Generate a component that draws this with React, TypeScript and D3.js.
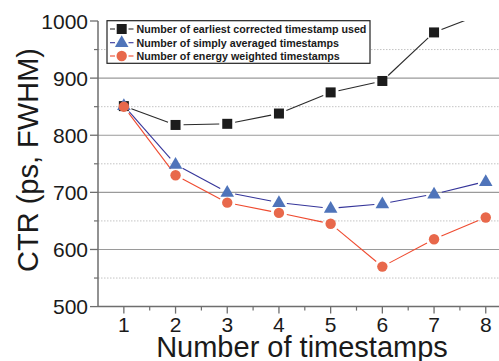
import React from "react";
import * as d3 from "d3";

const timestamps = [1, 2, 3, 4, 5, 6, 7, 8];
const earliestCorrected = [851, 818, 820, 838, 875, 895, 980, 1015];
const simplyAveraged = [852, 749, 700, 682, 672, 680, 697, 719];
const energyWeighted = [850, 730, 682, 664, 645, 570, 618, 656];
const seriesNames = [
  "Number of earliest corrected timestamp used",
  "Number of simply averaged timestamps",
  "Number of energy weighted timestamps",
];
const yMajorTicks = [500, 600, 700, 800, 900, 1000];
const yMinorTicks = [550, 650, 750, 850, 950];
const xMinorTicks = [1.5, 2.5, 3.5, 4.5, 5.5, 6.5, 7.5];

const W = 499;
const H = 361;
const left = 98;
const top = 21;
const bottom = 306.6;

const x = d3.scaleLinear().domain([0.5, 8.5]).range([left, left + 8 * 51.7]);
const y = d3.scaleLinear().domain([500, 1000]).range([bottom, top]);

type Kind = "square" | "triangle" | "circle";

const series: { name: string; values: number[]; kind: Kind; fill: string; line: string }[] = [
  { name: seriesNames[0], values: earliestCorrected, kind: "square", fill: "#1c1c1c", line: "#2a2a2a" },
  { name: seriesNames[1], values: simplyAveraged, kind: "triangle", fill: "#4f74ba", line: "#35359a" },
  { name: seriesNames[2], values: energyWeighted, kind: "circle", fill: "#e8684b", line: "#ef4b30" },
];

const GAP = 8;

function Marker({ kind, cx, cy, fill }: { kind: Kind; cx: number; cy: number; fill: string }) {
  if (kind === "square") {
    return <rect x={cx - 5} y={cy - 5} width={10} height={10} fill={fill} />;
  }
  if (kind === "triangle") {
    const path = d3.symbol(d3.symbolTriangle, 80)();
    return <path d={path || ""} transform={`translate(${cx},${cy + 0.5})`} fill={fill} />;
  }
  return <circle cx={cx} cy={cy} r={5.2} fill={fill} />;
}

function segments(values: number[]) {
  const segs: { x1: number; y1: number; x2: number; y2: number }[] = [];
  for (let i = 0; i < values.length - 1; i++) {
    const ax = x(timestamps[i]);
    const ay = y(values[i]);
    const bx = x(timestamps[i + 1]);
    const by = y(values[i + 1]);
    const len = Math.hypot(bx - ax, by - ay);
    if (len <= 2 * GAP) continue;
    const ux = (bx - ax) / len;
    const uy = (by - ay) / len;
    segs.push({ x1: ax + ux * GAP, y1: ay + uy * GAP, x2: bx - ux * GAP, y2: by - uy * GAP });
  }
  return segs;
}

export default function App() {
  const font = "Liberation Sans, Arial, sans-serif";
  const legendRows = [29, 42.7, 56];
  return (
    <svg width={W} height={H} style={{ position: "absolute", left: 0, top: 0, background: "#fff" }} fontFamily={font}>
      <defs>
        <clipPath id="plot-clip">
          <rect x={left} y={top} width={W - left} height={bottom - top} />
        </clipPath>
      </defs>

      {/* grid */}
      {yMinorTicks.map((v) => (
        <line key={"gm" + v} x1={left} x2={W} y1={y(v)} y2={y(v)} stroke="#c4c4c4" strokeWidth={1} strokeDasharray="1.5,1.5" />
      ))}
      {yMajorTicks.filter((v) => v !== 500 && v !== 1000).map((v) => (
        <line key={"gM" + v} x1={left} x2={W} y1={y(v)} y2={y(v)} stroke="#9a9a9a" strokeWidth={1.2} />
      ))}

      {/* series */}
      <g clipPath="url(#plot-clip)">
        {series.map((s) => (
          <g key={s.name}>
            {segments(s.values).map((g, i) => (
              <line key={i} x1={g.x1} y1={g.y1} x2={g.x2} y2={g.y2} stroke={s.line} strokeWidth={1.1} />
            ))}
          </g>
        ))}
        {series.map((s) => (
          <g key={s.name + "m"}>
            {s.values.map((v, i) => (
              <Marker key={i} kind={s.kind} cx={x(timestamps[i])} cy={y(v)} fill={s.fill} />
            ))}
          </g>
        ))}
      </g>

      {/* axes */}
      <line x1={left} x2={left} y1={top} y2={bottom} stroke="#6e6e6e" strokeWidth={1.5} />
      <line x1={left} x2={W} y1={bottom} y2={bottom} stroke="#6e6e6e" strokeWidth={1.5} />
      {yMajorTicks.map((v) => (
        <g key={"yt" + v}>
          <line x1={left - 8} x2={left} y1={y(v)} y2={y(v)} stroke="#6e6e6e" strokeWidth={1.3} />
          <text x={left - 10} y={y(v)} dy="0.36em" textAnchor="end" fontSize={21} fill="#1a1a1a">
            {v}
          </text>
        </g>
      ))}
      {yMinorTicks.map((v) => (
        <line key={"ymt" + v} x1={left - 4} x2={left} y1={y(v)} y2={y(v)} stroke="#6e6e6e" strokeWidth={1.2} />
      ))}
      {timestamps.map((t) => (
        <g key={"xt" + t}>
          <line x1={x(t)} x2={x(t)} y1={bottom} y2={bottom + 7} stroke="#6e6e6e" strokeWidth={1.3} />
          <text x={x(t)} y={332} textAnchor="middle" fontSize={21} fill="#1a1a1a">
            {t}
          </text>
        </g>
      ))}
      {xMinorTicks.map((t) => (
        <line key={"xmt" + t} x1={x(t)} x2={x(t)} y1={bottom} y2={bottom + 4} stroke="#6e6e6e" strokeWidth={1.2} />
      ))}

      {/* axis titles */}
      <text x={302} y={357} textAnchor="middle" fontSize={29} fill="#1a1a1a">
        Number of timestamps
      </text>
      <text transform="translate(38,160) rotate(-90)" textAnchor="middle" fontSize={29} fill="#1a1a1a">
        CTR (ps, FWHM)
      </text>

      {/* legend */}
      <rect x={107} y={20.7} width={263} height={42.6} fill="#fff" stroke="#222" strokeWidth={1.2} />
      {series.map((s, i) => (
        <g key={"lg" + i}>
          <line x1={110} x2={133.5} y1={legendRows[i]} y2={legendRows[i]} stroke={s.line} strokeWidth={1.1} />
          <rect x={115} y={legendRows[i] - 6} width={13.5} height={12} fill="#fff" />
          <Marker kind={s.kind} cx={121.7} cy={legendRows[i]} fill={s.fill} />
          <text x={136.5} y={legendRows[i]} dy="0.36em" fontSize={10.7} fontWeight="bold" fill="#1a1a1a">
            {s.name}
          </text>
        </g>
      ))}
    </svg>
  );
}
